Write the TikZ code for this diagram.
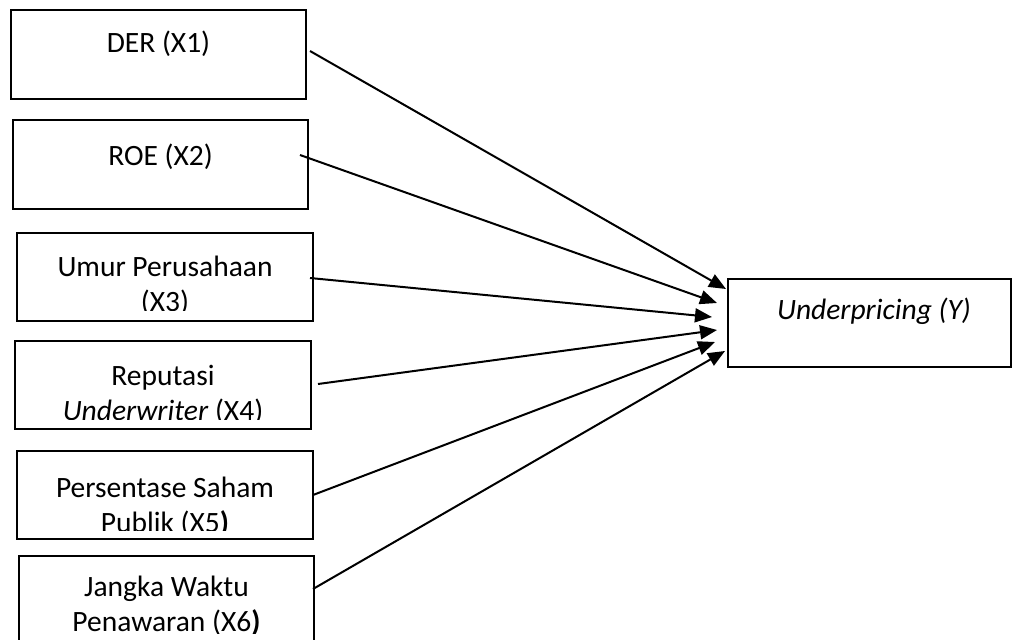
\documentclass[tikz,border=0pt]{standalone}
\usepackage{fontspec}
\setmainfont{Carlito}
\usetikzlibrary{arrows.meta}
\begin{document}
\begin{tikzpicture}[x=1pt,y=-1pt,
  varbox/.style={draw, line width=2.8pt, anchor=north west, inner sep=0pt, outer sep=0pt},
  lbl/.style={anchor=base, inner sep=0pt, font=\fontsize{29.5}{35}\selectfont},
  link/.style={line width=2pt, -{Triangle[length=17pt,width=14pt]}}]
\fill[white] (0,0) rectangle (1013,640);
\useasboundingbox (0,0) rectangle (1013,640);

% independent variables
\node[varbox, minimum width=295pt, minimum height=89pt] (b1) at (11,10) {};
\node[varbox, minimum width=295pt, minimum height=89pt] (b2) at (13,120) {};
\node[varbox, minimum width=296pt, minimum height=88pt] (b3) at (17,233) {};
\node[varbox, minimum width=296pt, minimum height=88pt] (b4) at (15,341) {};
\node[varbox, minimum width=296pt, minimum height=88pt] (b5) at (17,451) {};
\node[varbox, minimum width=295pt, minimum height=90pt] (b6) at (19,556) {};
% dependent variable
\node[varbox, minimum width=283pt, minimum height=88pt] (y) at (728,279) {};

\node[lbl] (l1) at (158.5,52) {DER (X1)};
\node[lbl] (l2) at (160.5,165) {ROE (X2)};
\begin{scope}
  \clip (b3.north west) rectangle (b3.east |- 0,310);
  \node[lbl] (l3a) at (165,276) {Umur Perusahaan};
  \node[lbl] (l3b) at (165,311) {(X3)};
\end{scope}
\begin{scope}
  \clip (b4.north west) rectangle (b4.east |- 0,419.5);
  \node[lbl] (l4a) at (163,385) {Reputasi};
  \node[lbl] (l4b) at (163,420) {\textit{Underwriter} (X4)};
\end{scope}
\begin{scope}
  \clip (b5.north west) rectangle (b5.east |- 0,530.5);
  \node[lbl] (l5a) at (165,497) {Persentase Saham};
  \node[lbl] (l5b) at (165,532) {Publik (X5\textbf{)}};
\end{scope}
\begin{scope}
  \clip (b6.north west) rectangle (b6.east |- 0,633);
  \node[lbl] (l6a) at (166.5,596) {Jangka Waktu};
  \node[lbl] (l6b) at (166.5,631) {Penawaran (X6\textbf{)}};
\end{scope}
\node[lbl] (ly) at (874,319) {\textit{Underpricing (Y)}};

% connector end points
\coordinate (s1) at (310,51);
\coordinate (s2) at (300,155);
\coordinate (s3) at (310,278);
\coordinate (s4) at (318,384);
\coordinate (s5) at (313,495);
\coordinate (s6) at (313,589);
\coordinate (e1) at (726,289);
\coordinate (e2) at (717,303);
\coordinate (e3) at (712,317);
\coordinate (e4) at (717,330);
\coordinate (e5) at (715,342);
\coordinate (e6) at (725,351);

\draw[link] (s1) -- (e1);
\draw[link] (s2) -- (e2);
\draw[link] (s3) -- (e3);
\draw[link] (s4) -- (e4);
\draw[link] (s5) -- (e5);
\draw[link] (s6) -- (e6);
\end{tikzpicture}
\end{document}
